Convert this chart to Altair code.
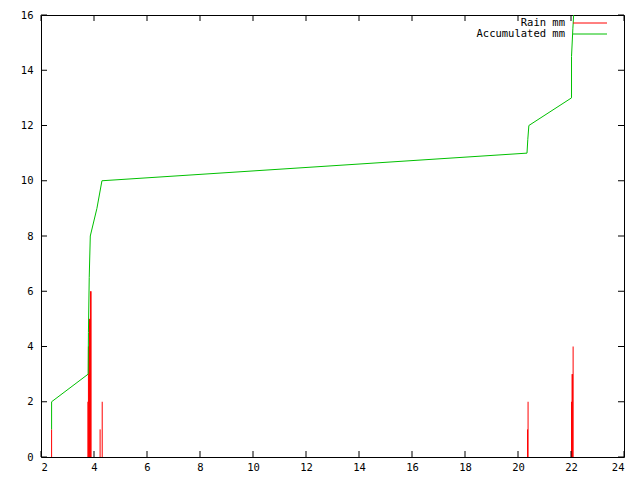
import altair as alt
import pandas as pd

# Rain impulses (time, mm)
rain_x = [2.40, 3.77, 3.79, 3.81, 3.83, 3.85, 3.87, 3.89, 4.23, 4.31,
          20.36, 20.38, 22.02, 22.04, 22.06, 22.08]
rain_y = [1, 2, 4, 4, 5, 5, 6, 6, 1, 2,
          1, 2, 2, 3, 3, 4]

# Accumulated curve (time, mm)
acc_x = [2.40, 2.40, 3.78, 3.79, 3.82, 3.86, 4.11, 4.30, 20.34, 20.37, 20.41,
         22.02, 22.02, 22.07, 22.10]
acc_y = [1, 2, 3, 4.5, 6.5, 8, 9, 10, 11, 11.5, 12,
         13, 14.5, 15.5, 16]

x_ticks = [2, 4, 6, 8, 10, 12, 14, 16, 18, 20, 22, 24]
y_ticks = [0, 2, 4, 6, 8, 10, 12, 14, 16]

legend_names = ["Rain mm", "Accumulated mm"]
legend_colors = ["#ff0000", "#00c000"]

W, H = 583, 442
FONT = "DejaVu Sans Mono"

rain_df = pd.DataFrame({"t": rain_x, "mm": rain_y})
acc_df = pd.DataFrame({"t": acc_x, "mm": acc_y, "i": list(range(len(acc_x)))})
xt_df = pd.DataFrame({"t": x_ticks})
yt_df = pd.DataFrame({"v": y_ticks})

xscale = alt.Scale(domain=[2, 24], nice=False, zero=False)
yscale = alt.Scale(domain=[0, 16], nice=False)

xaxis = alt.Axis(values=x_ticks, ticks=False, tickSize=0, domain=False, grid=False,
                 labelPadding=5, labelFont=FONT, labelFontSize=10.5, labelColor="black",
                 title=None)
yaxis = alt.Axis(values=y_ticks, ticks=False, tickSize=0, domain=False, grid=False,
                 labelPadding=8, labelFont=FONT, labelFontSize=10.5, labelColor="black",
                 title=None)

rain = alt.Chart(rain_df).mark_rule(color="#ff0000", strokeWidth=1).encode(
    x=alt.X("t:Q", scale=xscale, axis=xaxis),
    y=alt.Y("mm:Q", scale=yscale, axis=yaxis),
    y2=alt.datum(0),
)

acc = alt.Chart(acc_df).mark_line(color="#00c000", strokeWidth=1, interpolate="linear").encode(
    x=alt.X("t:Q", scale=xscale),
    y=alt.Y("mm:Q", scale=yscale),
    order=alt.Order("i:Q"),
)

tick_style = dict(color="black", strokeWidth=1)
xt_bottom = alt.Chart(xt_df).mark_rule(**tick_style).encode(
    x=alt.X("t:Q", scale=xscale), y=alt.value(H), y2=alt.value(H - 6))
xt_top = alt.Chart(xt_df).mark_rule(**tick_style).encode(
    x=alt.X("t:Q", scale=xscale), y=alt.value(0), y2=alt.value(6))
yt_left = alt.Chart(yt_df).mark_rule(**tick_style).encode(
    y=alt.Y("v:Q", scale=yscale), x=alt.value(0), x2=alt.value(6))
yt_right = alt.Chart(yt_df).mark_rule(**tick_style).encode(
    y=alt.Y("v:Q", scale=yscale), x=alt.value(W), x2=alt.value(W - 6))

leg_layers = []
for k, (name, col) in enumerate(zip(legend_names, legend_colors)):
    ydev = 8 + 11 * k
    d = pd.DataFrame({"name": [name]})
    leg_layers.append(
        alt.Chart(d).mark_text(align="right", baseline="middle", font=FONT,
                               fontSize=10.5, color="black").encode(
            text="name:N", x=alt.value(524), y=alt.value(ydev)))
    leg_layers.append(
        alt.Chart(d).mark_rule(color=col, strokeWidth=1).encode(
            x=alt.value(532), x2=alt.value(566), y=alt.value(ydev)))

chart = alt.layer(rain, acc, xt_bottom, xt_top, yt_left, yt_right, *leg_layers).properties(
    width=W, height=H,
    autosize=alt.AutoSizeParams(type="none"),
    padding={"left": 33, "top": 7, "right": 8, "bottom": 20},
    background="white",
).configure_view(stroke="black", strokeWidth=1)

chart.save("out.html", embed_options={"renderer": "svg", "actions": False})
